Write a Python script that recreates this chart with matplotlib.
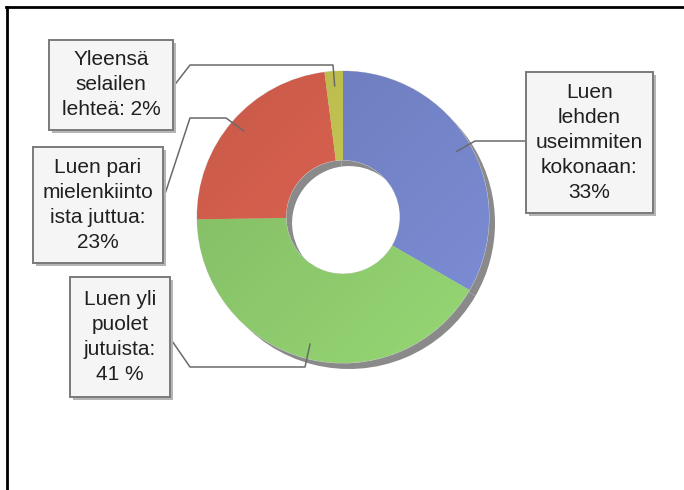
import numpy as np
import matplotlib.pyplot as plt
from matplotlib.patches import Rectangle
from matplotlib.lines import Line2D
from matplotlib.colors import to_rgb

# slices, clockwise from 12 o'clock
labels = ["Luen\nlehden\nuseimmiten\nkokonaan:", "Luen yli\npuolet\njutuista:",
          "Luen pari\nmielenkiinto\nista juttua:", "Yleensä\nselailen\nlehteä:"]
values = [33, 41, 23, 2]
pct_text = ["\n33%", "\n41 %", "\n23%", " 2%"]
colors = ["#7484c8", "#8cc86c", "#d9614f", "#c6c653"]

W, H = 684, 490
CX, CY, R = 343, 217, 146   # pie centre / radius in pixels


def px(x, y):
    # pixel position (from top-left) -> data units (pie radius = 1)
    return (x - CX) / R, (CY - y) / R


fig = plt.figure(figsize=(W / 100, H / 100), dpi=100)
ax = fig.add_axes([0, 0, 1, 1])
plt.rcParams['font.family'] = ['Liberation Sans', 'DejaVu Sans']

hole = 0.39
sh = 6 / R
ax.pie(values, radius=1, startangle=90, counterclock=False, center=(sh, -sh),
       colors=["#8a8a8a"] * len(values), wedgeprops=dict(width=1 - hole, linewidth=0))
wedges, _ = ax.pie(values, radius=1, startangle=90, counterclock=False, center=(0, 0),
                   colors=colors, wedgeprops=dict(width=1 - hole, edgecolor="#d8d8d8", linewidth=0.6))

# soft diagonal shading, darker top-left -> lighter bottom-right
gx, gy = np.meshgrid(np.linspace(-1, 1, 200), np.linspace(1, -1, 200))
t = (gx - gy) / 4  # -0.5 .. 0.5
for w, c in zip(wedges, colors):
    base = np.array(to_rgb(c))
    img = np.clip(base[None, None, :] * (1 + 0.16 * t[..., None]), 0, 1)
    im = ax.imshow(img, extent=(-1, 1, -1, 1), zorder=w.get_zorder() + 0.1,
                   interpolation="bilinear")
    im.set_clip_path(w)
    w.set_zorder(w.get_zorder())

# label boxes: (left, top, right, bottom) in pixels, and leader path
boxes = [(526, 72, 653, 213), (70, 277, 170, 397), (33, 147, 163, 263), (49, 40, 173, 130)]
paths = [[(526, 141), (475, 141)],
         [(170, 338), (190, 367), (305, 367)],
         [(163, 200), (190, 118), (226, 118)],
         [(173, 87), (190, 65), (333, 65)]]

total = sum(values)
start = 90.0
for i, v in enumerate(values):
    mid = np.deg2rad(start - v / total * 180)
    start -= v / total * 360
    ax_, ay_ = 0.9 * np.cos(mid), 0.9 * np.sin(mid)
    pts = [px(*p) for p in paths[i]] + [(ax_, ay_)]
    xs, ys = zip(*pts)
    ax.plot(xs, ys, color="#6a6a6a", lw=1.1, zorder=5)

    l, t_, r, b = boxes[i]
    x0, y0 = px(l, b)
    x1, y1 = px(r, t_)
    s = 3 / R
    ax.add_patch(Rectangle((x0 + s, y0 - s), x1 - x0, y1 - y0, facecolor="#b5b5b5",
                           edgecolor="none", zorder=6))
    ax.add_patch(Rectangle((x0, y0), x1 - x0, y1 - y0, facecolor="#f5f5f5",
                           edgecolor="#7a7a7a", lw=1.4, zorder=7))
    ax.text((x0 + x1) / 2, (y0 + y1) / 2, labels[i] + pct_text[i],
            ha="center", va="center", fontsize=15, linespacing=1.4,
            color="#202020", zorder=8)

ax.set_xlim(px(0, 0)[0], px(W, 0)[0])
ax.set_ylim(px(0, H)[1], px(0, 0)[1])
ax.set_aspect("auto")
ax.axis("off")

# frame lines at top and left
fig.add_artist(Line2D([6 / W, 1], [1 - 7.5 / H, 1 - 7.5 / H], color="black", lw=2,
                      transform=fig.transFigure))
fig.add_artist(Line2D([7 / W, 7 / W], [0, 1 - 7.5 / H], color="black", lw=2,
                      transform=fig.transFigure))

fig.savefig("out.png", dpi=100)
